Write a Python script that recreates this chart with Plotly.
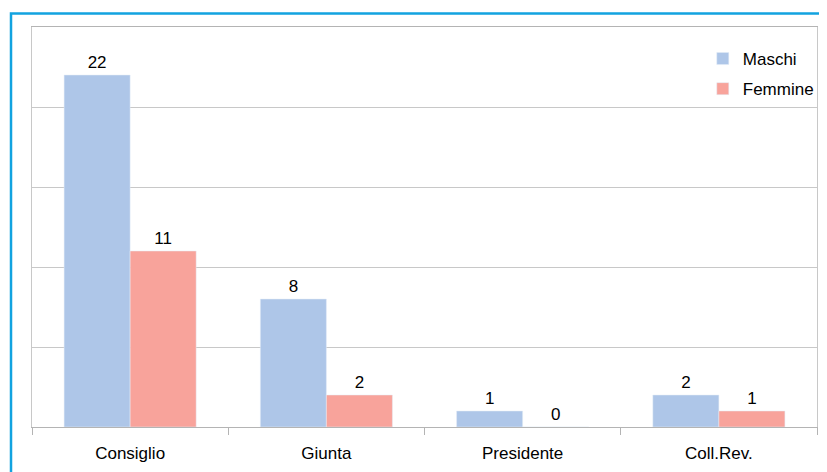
import plotly.graph_objects as go

categories = ["Consiglio", "Giunta", "Presidente", "Coll.Rev."]
maschi = [22, 8, 1, 2]
femmine = [11, 2, 0, 1]
y_ticks = [0, 5, 10, 15, 20, 25]

OFF = 8  # default body margin of the html page
W, H = 827, 472
L, R, T, B = 32, 10, 27, 45
pw, ph = W - L - R, H - T - B
FONT = "Liberation Sans, Arial, sans-serif"
FS = 17

fig = go.Figure()
fig.add_trace(go.Bar(name="Maschi", x=categories, y=maschi, marker_color="#AEC6E8",
                     text=maschi, textposition="outside", cliponaxis=False,
                     textfont=dict(size=FS, color="black"), legendgroup="m"))
fig.add_trace(go.Bar(name="Femmine", x=categories, y=femmine, marker_color="#F8A39B",
                     text=femmine, textposition="outside", cliponaxis=False,
                     textfont=dict(size=FS, color="black"), legendgroup="f"))

fx0 = (11 - L) / pw
fy1 = 1 + (T - 13.5) / ph
fig.add_shape(type="rect", xref="paper", yref="paper",
              x0=fx0, x1=(W + 10 - L) / pw, y0=-(B + 10) / ph, y1=fy1,
              line=dict(color="#12A3E0", width=2.5), fillcolor="rgba(0,0,0,0)", layer="above")

fig.update_layout(
    width=W - OFF, height=H - OFF,
    margin=dict(l=L - OFF, r=R, t=T - OFF, b=B, autoexpand=False),
    paper_bgcolor="white", plot_bgcolor="white",
    font=dict(family=FONT, size=FS, color="black"),
    barmode="group", bargap=0.327, bargroupgap=0,
    showlegend=True,
    legend=dict(x=0.8545, y=0.965, xanchor="left", yanchor="top", bgcolor="rgba(0,0,0,0)",
                font=dict(size=FS), tracegroupgap=5, traceorder="grouped"),
    xaxis=dict(showline=True, linecolor="#B4B4B4", linewidth=1, mirror=True,
               ticks="outside", ticklen=7, tickcolor="#B4B4B4", tickson="boundaries",
               ticklabelstandoff=11, showgrid=False),
    yaxis=dict(range=[0, 25], tickvals=y_ticks, showticklabels=False,
               showgrid=True, gridcolor="#C8C8C8", gridwidth=1,
               showline=True, linecolor="#C8C8C8", mirror=True, zeroline=False, ticks=""),
)

fig.write_html("out.html")
